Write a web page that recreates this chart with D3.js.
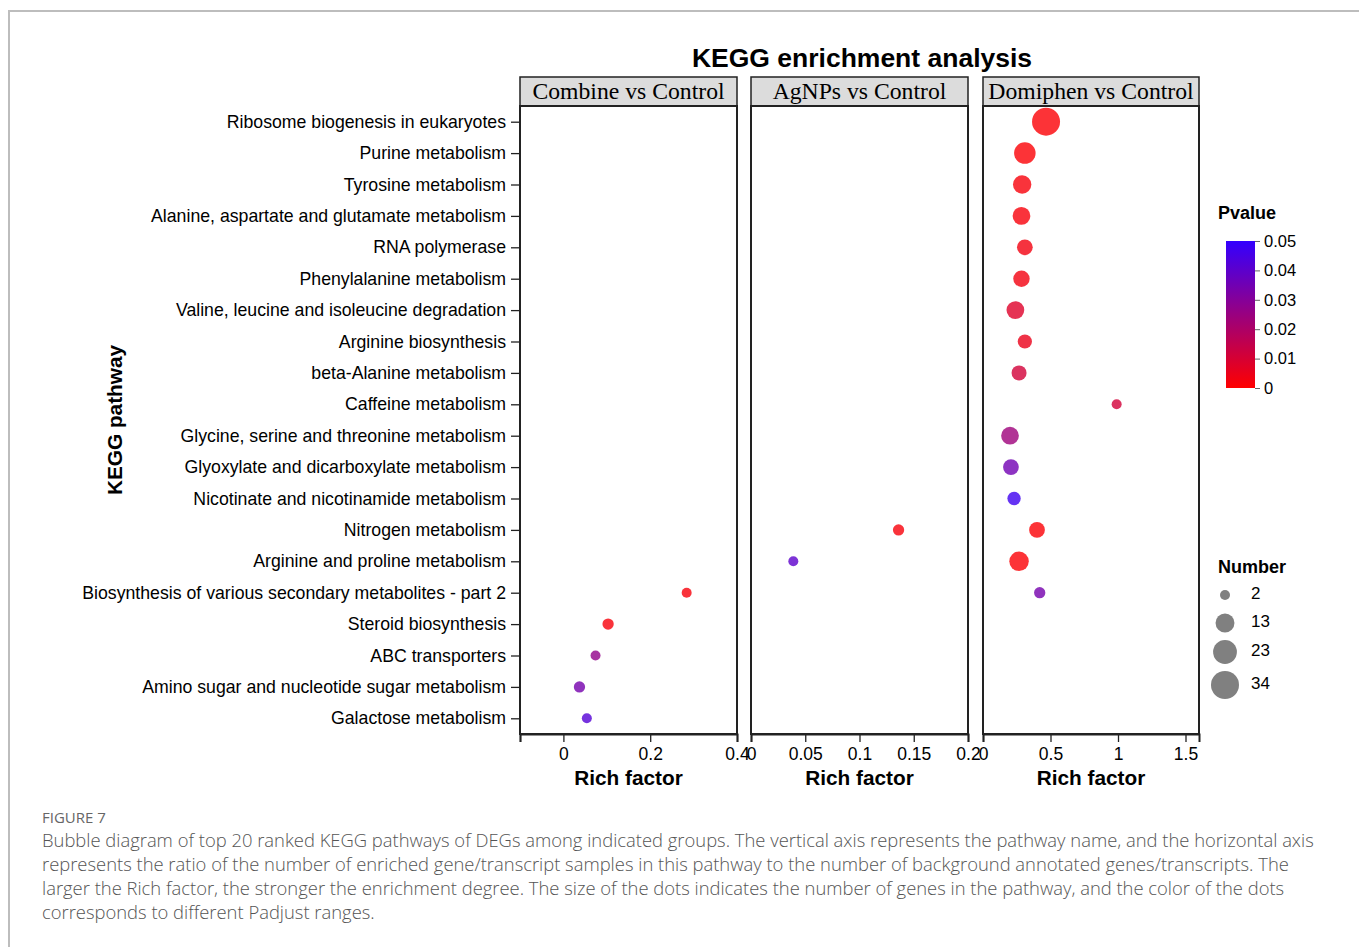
<!DOCTYPE html>
<html>
<head>
<meta charset="utf-8">
<script src="https://cdn.jsdelivr.net/npm/d3@7"></script>
<style>
  body { margin: 0; background: #fff; }
  svg { display: block; }
</style>
</head>
<body>
<div id="chart"></div>
<script>
// Pathway names, top to bottom
var pathways = [
  "Ribosome biogenesis in eukaryotes",
  "Purine metabolism",
  "Tyrosine metabolism",
  "Alanine, aspartate and glutamate metabolism",
  "RNA polymerase",
  "Phenylalanine metabolism",
  "Valine, leucine and isoleucine degradation",
  "Arginine biosynthesis",
  "beta-Alanine metabolism",
  "Caffeine metabolism",
  "Glycine, serine and threonine metabolism",
  "Glyoxylate and dicarboxylate metabolism",
  "Nicotinate and nicotinamide metabolism",
  "Nitrogen metabolism",
  "Arginine and proline metabolism",
  "Biosynthesis of various secondary metabolites - part 2",
  "Steroid biosynthesis",
  "ABC transporters",
  "Amino sugar and nucleotide sugar metabolism",
  "Galactose metabolism"
];

var groups = ["Combine vs Control", "AgNPs vs Control", "Domiphen vs Control"];

// Combine vs Control (null = not enriched)
var combineRich = [null, null, null, null, null, null, null, null, null, null,
  null, null, null, null, null, 0.284, 0.103, 0.074, 0.037, 0.054];
var combinePval = [null, null, null, null, null, null, null, null, null, null,
  null, null, null, null, null, 0.002, 0.002, 0.027, 0.034, 0.042];
var combineNum = [null, null, null, null, null, null, null, null, null, null,
  null, null, null, null, null, 2, 3, 2, 3, 2];

// AgNPs vs Control
var agnpsRich = [null, null, null, null, null, null, null, null, null, null,
  null, null, null, 0.136, 0.039, null, null, null, null, null];
var agnpsPval = [null, null, null, null, null, null, null, null, null, null,
  null, null, null, 0.002, 0.040, null, null, null, null, null];
var agnpsNum = [null, null, null, null, null, null, null, null, null, null,
  null, null, null, 3, 2, null, null, null, null, null];

// Domiphen vs Control
var domiphenRich = [0.467, 0.31, 0.29, 0.285, 0.31, 0.285, 0.24, 0.31, 0.267, 0.99,
  0.2, 0.207, 0.23, 0.40, 0.267, 0.42, null, null, null, null];
var domiphenPval = [0.001, 0.001, 0.002, 0.002, 0.003, 0.003, 0.008, 0.005, 0.011, 0.011,
  0.024, 0.035, 0.047, 0.001, 0.001, 0.034, null, null, null, null];
var domiphenNum = [34, 18, 12, 11, 8, 9, 11, 6, 7, 2,
  11, 8, 5, 8, 14, 3, null, null, null, null];

// x domains and ticks per panel
var xDomains = [[-0.1, 0.4], [0, 0.2], [0, 1.6]];
var xTicks = [[-0.1, 0, 0.2, 0.4], [0, 0.05, 0.1, 0.15, 0.2], [0, 0.5, 1, 1.5]];

var pvalTicks = [0, 0.01, 0.02, 0.03, 0.04, 0.05];
var numLegend = [2, 13, 23, 34];

var captionLines = [
  "Bubble diagram of top 20 ranked KEGG pathways of DEGs among indicated groups. The vertical axis represents the pathway name, and the horizontal axis",
  "represents the ratio of the number of enriched gene/transcript samples in this pathway to the number of background annotated genes/transcripts. The",
  "larger the Rich factor, the stronger the enrichment degree. The size of the dots indicates the number of genes in the pathway, and the color of the dots",
  "corresponds to different Padjust ranges."
];

// Build per-panel point lists
var panelData = [
  [combineRich, combinePval, combineNum],
  [agnpsRich, agnpsPval, agnpsNum],
  [domiphenRich, domiphenPval, domiphenNum]
].map(function(arr) {
  var pts = [];
  pathways.forEach(function(p, i) {
    if (arr[0][i] != null) pts.push({ name: p, rich: arr[0][i], pval: arr[1][i], num: arr[2][i] });
  });
  return pts;
});

var svgWidth = 1359;
var svgHeight = 947;

var svg = d3.select("#chart")
  .append("svg")
  .attr("width", svgWidth)
  .attr("height", svgHeight);

// page frame
svg.append("path")
  .attr("d", "M9," + svgHeight + "V11H" + svgWidth)
  .attr("fill", "none")
  .attr("stroke", "#bdbdbd")
  .attr("stroke-width", 2);

var sans = "'Liberation Sans', Arial, sans-serif";
var serif = "'Liberation Serif', 'Times New Roman', serif";

var plotTop = 106, plotBottom = 734;
var stripTop = 77;
var panelX = [[520, 737], [751, 968], [983, 1199]];

var yScale = d3.scalePoint()
  .domain(pathways)
  .range([plotTop, plotBottom])
  .padding(0.5);

var colorScale = d3.scaleLinear()
  .domain([0, 0.05])
  .range(["#ff0000", "#3300ff"])
  .interpolate(d3.interpolateRgb);

var rScale = d3.scaleSqrt()
  .domain([2, 34])
  .range([5, 14]);

// Title
svg.append("text")
  .attr("x", 862)
  .attr("y", 67)
  .attr("text-anchor", "middle")
  .attr("font-family", sans)
  .attr("font-weight", "bold")
  .attr("font-size", 26.5)
  .text("KEGG enrichment analysis");

// Y axis (on first panel)
var leftAxis = d3.axisLeft(yScale).tickSize(9).tickPadding(5);
var yAxisG = svg.append("g")
  .attr("transform", "translate(" + panelX[0][0] + ",0)")
  .call(leftAxis);
yAxisG.select(".domain").remove();
yAxisG.selectAll("line").attr("stroke", "#222").attr("stroke-width", 1.3);
yAxisG.selectAll("text")
  .attr("font-family", sans)
  .attr("font-size", 17.7)
  .attr("fill", "#000");

svg.append("text")
  .attr("transform", "translate(122,420) rotate(-90)")
  .attr("text-anchor", "middle")
  .attr("font-family", sans)
  .attr("font-weight", "bold")
  .attr("font-size", 20.8)
  .text("KEGG pathway");

// Panels
groups.forEach(function(g, k) {
  var x0 = panelX[k][0], x1 = panelX[k][1];
  var xScale = d3.scaleLinear().domain(xDomains[k]).range([x0, x1]);

  // strip
  svg.append("rect")
    .attr("x", x0)
    .attr("y", stripTop)
    .attr("width", x1 - x0)
    .attr("height", plotTop - stripTop)
    .attr("fill", "#dcdcdc")
    .attr("stroke", "#222")
    .attr("stroke-width", 1.5);
  svg.append("text")
    .attr("x", (x0 + x1) / 2)
    .attr("y", stripTop + 22)
    .attr("text-anchor", "middle")
    .attr("font-family", serif)
    .attr("font-size", 23.7)
    .text(g);

  // panel box
  svg.append("rect")
    .attr("x", x0)
    .attr("y", plotTop)
    .attr("width", x1 - x0)
    .attr("height", plotBottom - plotTop)
    .attr("fill", "none")
    .attr("stroke", "#222")
    .attr("stroke-width", 2);

  // x axis
  var bottomAxis = d3.axisBottom(xScale)
    .tickValues(xTicks[k])
    .tickSize(8)
    .tickPadding(6)
    .tickFormat(function(d) { return d < 0 ? "" : d3.format("")(d); });
  var xg = svg.append("g")
    .attr("transform", "translate(0," + plotBottom + ")")
    .call(bottomAxis);
  xg.select(".domain").attr("stroke", "#222").attr("stroke-width", 2);
  xg.selectAll("line").attr("stroke", "#222").attr("stroke-width", 1.3);
  xg.selectAll("text")
    .attr("font-family", sans)
    .attr("font-size", 17.5)
    .attr("fill", "#000");

  svg.append("text")
    .attr("x", (x0 + x1) / 2)
    .attr("y", 785)
    .attr("text-anchor", "middle")
    .attr("font-family", sans)
    .attr("font-weight", "bold")
    .attr("font-size", 20.8)
    .text("Rich factor");

  // bubbles
  svg.append("g").selectAll("circle")
    .data(panelData[k])
    .enter()
    .append("circle")
    .attr("cx", d => xScale(d.rich))
    .attr("cy", d => yScale(d.name))
    .attr("r", d => rScale(d.num))
    .attr("fill", d => colorScale(d.pval))
    .attr("opacity", 0.8);
});

// Pvalue legend
var legX = 1226, legW = 29, legTop = 241, legBottom = 388;
svg.append("text")
  .attr("x", 1218)
  .attr("y", 219)
  .attr("font-family", sans)
  .attr("font-weight", "bold")
  .attr("font-size", 18)
  .text("Pvalue");

var defs = svg.append("defs");
var grad = defs.append("linearGradient")
  .attr("id", "pgrad")
  .attr("x1", "0").attr("y1", "1")
  .attr("x2", "0").attr("y2", "0");
grad.selectAll("stop")
  .data(pvalTicks)
  .enter()
  .append("stop")
  .attr("offset", d => (d / 0.05))
  .attr("stop-color", d => colorScale(d));

svg.append("rect")
  .attr("x", legX)
  .attr("y", legTop)
  .attr("width", legW)
  .attr("height", legBottom - legTop)
  .attr("fill", "url(#pgrad)");

var pScale = d3.scaleLinear().domain([0, 0.05]).range([legBottom, legTop]);
var pAxis = d3.axisRight(pScale).tickValues(pvalTicks).tickSize(5).tickPadding(4)
  .tickFormat(d3.format(""));
var pg = svg.append("g")
  .attr("transform", "translate(" + (legX + legW) + ",0)")
  .call(pAxis);
pg.select(".domain").remove();
pg.selectAll("line").attr("stroke", "#666");
pg.selectAll("text")
  .attr("font-family", sans)
  .attr("font-size", 16.5)
  .attr("fill", "#000");

// Number legend
svg.append("text")
  .attr("x", 1218)
  .attr("y", 573)
  .attr("font-family", sans)
  .attr("font-weight", "bold")
  .attr("font-size", 18)
  .text("Number");

var numY = [595, 623, 652, 685];
var ng = svg.append("g").selectAll("g")
  .data(numLegend)
  .enter()
  .append("g")
  .attr("transform", (d, i) => "translate(1225," + numY[i] + ")");
ng.append("circle")
  .attr("r", d => rScale(d))
  .attr("fill", "#808080");
ng.append("text")
  .attr("x", 26)
  .attr("y", -2)
  .attr("dy", "0.35em")
  .attr("font-family", sans)
  .attr("font-size", 17)
  .text(d => d);

// Caption
svg.append("text")
  .attr("x", 42)
  .attr("y", 823)
  .attr("font-family", "'Open Sans', sans-serif")
  .attr("font-size", 15)
  .attr("fill", "#666")
  .text("FIGURE 7");

svg.append("g").selectAll("text")
  .data(captionLines)
  .enter()
  .append("text")
  .attr("x", 42)
  .attr("y", (d, i) => 847 + i * 24)
  .attr("font-family", "'Open Sans', sans-serif")
  .attr("font-weight", 300)
  .attr("font-size", 18.4)
  .attr("fill", "#555")
  .text(d => d);
</script>
</body>
</html>
